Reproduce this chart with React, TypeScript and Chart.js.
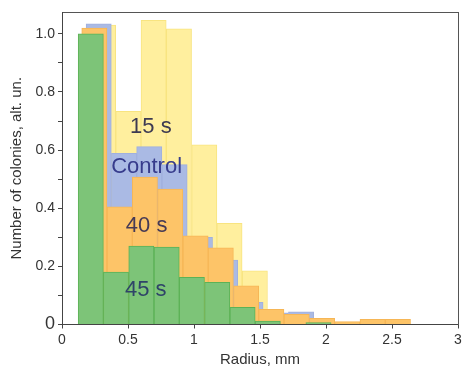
import React, { useEffect, useRef } from "react";
import { Chart, registerables } from "chart.js";

Chart.register(...registerables);

// Bin centres (radius, mm) for each series
const radius45 = [0.218, 0.409, 0.601, 0.793, 0.984, 1.176, 1.368, 1.559, 1.751, 1.943];
const radius40 = [0.245, 0.437, 0.628, 0.820, 1.012, 1.203, 1.395, 1.586, 1.778, 1.970, 2.161, 2.353, 2.545];
const radiusControl = [0.278, 0.470, 0.661, 0.853, 1.045, 1.236, 1.428, 1.619, 1.811];
const radius15 = [0.311, 0.503, 0.694, 0.886, 1.078, 1.269, 1.461];

// Normalised number of colonies
const values45 = [1.0, 0.18, 0.27, 0.266, 0.162, 0.145, 0.059, 0.012, 0, 0.007];
const values40 = [1.02, 0.405, 0.507, 0.466, 0.305, 0.264, 0.133, 0.052, 0.035, 0.021, 0.01, 0.018, 0.018];
const valuesControl = [1.034, 0.589, 0.612, 0.55, 0.3, 0.222, 0.076, 0.04, 0.044];
const values15 = [1.03, 0.733, 1.046, 1.017, 0.618, 0.348, 0.185];

// In-plot labels
const labelTexts = ["15 s", "Control", "40 s", "45 s"];
const labelX = [0.673, 0.641, 0.641, 0.635];
const labelY = [0.681, 0.543, 0.34, 0.119];
const labelColors = ["#3d3a52", "#373c8c", "#463a55", "#2f4468"];

const xTicks = [0, 0.5, 1, 1.5, 2, 2.5, 3];
const xTickLabels = ["0", "0.5", "1", "1.5", "2", "2.5", "3"];

const FONT = "'Liberation Sans', Arial, sans-serif";

const toPoints = (xs: number[], ys: number[]) => xs.map((x, i) => ({ x, y: ys[i] }));

export default function App() {
  const canvasRef = useRef<HTMLCanvasElement | null>(null);

  useEffect(() => {
    document.body.style.margin = "0";
    const canvas = canvasRef.current;
    if (!canvas) return;

    const hiddenX = () => ({
      type: "linear" as const,
      min: 0,
      max: 3,
      display: false,
      offset: false,
      ticks: { stepSize: 0.5 },
      grid: { offset: false },
    });

    const labelPlugin = {
      id: "seriesLabels",
      afterDatasetsDraw(chart: any) {
        const { ctx, scales } = chart;
        ctx.save();
        ctx.font = `22px ${FONT}`;
        ctx.textAlign = "center";
        ctx.textBaseline = "middle";
        labelTexts.forEach((t, i) => {
          ctx.fillStyle = labelColors[i];
          ctx.fillText(t, scales.x.getPixelForValue(labelX[i]), scales.y.getPixelForValue(labelY[i]));
        });
        ctx.restore();
      },
    };

    const chart = new Chart(canvas, {
      type: "bar",
      data: {
        datasets: [
          {
            label: "45 s",
            data: toPoints(radius45, values45),
            xAxisID: "x",
            backgroundColor: "rgb(125, 196, 120)",
            borderColor: "rgb(92, 178, 86)",
            borderWidth: 1,
          },
          {
            label: "40 s",
            data: toPoints(radius40, values40),
            xAxisID: "x1",
            backgroundColor: "rgb(253, 196, 104)",
            borderColor: "rgb(246, 182, 86)",
            borderWidth: 1,
          },
          {
            label: "Control",
            data: toPoints(radiusControl, valuesControl),
            xAxisID: "x2",
            backgroundColor: "rgb(170, 186, 228)",
            borderColor: "rgb(160, 176, 222)",
            borderWidth: 1,
          },
          {
            label: "15 s",
            data: toPoints(radius15, values15),
            xAxisID: "x3",
            backgroundColor: "rgb(255, 239, 158)",
            borderColor: "rgb(248, 228, 128)",
            borderWidth: 1,
          },
        ] as any,
      },
      options: {
        animation: false,
        responsive: false,
        maintainAspectRatio: false,
        grouped: false,
        barPercentage: 1,
        categoryPercentage: 1,
        layout: { padding: { top: 12, right: 4, left: 0, bottom: 0 } },
        plugins: { legend: { display: false }, tooltip: { enabled: false } },
        scales: {
          x: {
            type: "linear",
            position: "bottom",
            min: 0,
            max: 3,
            offset: false,
            afterBuildTicks: (s: any) => {
              s.ticks = xTicks.map((v) => ({ value: v }));
            },
            ticks: {
              stepSize: 0.5,
              color: "#333",
              font: { size: 14, family: FONT },
              padding: 3,
              maxRotation: 0,
              callback: (_v: any, i: number) => xTickLabels[i],
            },
            grid: { offset: false, drawOnChartArea: false, drawTicks: true, tickLength: 4, color: "#444" },
            border: { display: true, color: "#444", width: 1 },
            title: { display: true, text: "Radius, mm", color: "#333", font: { size: 15, family: FONT }, padding: { top: 0, bottom: 0 } },
            afterFit: (s: any) => {
              s.height = 44.5;
              s.paddingLeft = 0;
              s.paddingRight = 0;
            },
          },
          x1: hiddenX(),
          x2: hiddenX(),
          x3: hiddenX(),
          xTop: {
            type: "linear",
            position: "top",
            min: 0,
            max: 3,
            ticks: { display: false },
            grid: { display: false, drawTicks: false },
            border: { display: true, color: "#555", width: 1 },
            afterFit: (s: any) => {
              s.height = 0;
              s.paddingLeft = 0;
              s.paddingRight = 0;
            },
          },
          y: {
            type: "linear",
            position: "left",
            min: 0,
            max: 1.075,
            ticks: {
              stepSize: 0.1,
              includeBounds: false,
              autoSkip: false,
              color: "#333",
              font: (c: any) => ({ size: c.tick && c.tick.value === 0 ? 18 : 14, family: FONT }),
              padding: 3,
              callback: (v: any) => {
                const n = Math.round(Number(v) * 10);
                if (n % 2 !== 0) return "";
                return n === 0 ? "0" : (n / 10).toFixed(1);
              },
            },
            grid: { drawOnChartArea: false, drawTicks: true, tickLength: 4, color: "#444" },
            border: { display: true, color: "#444", width: 1 },
            title: {
              display: true,
              text: "Number of colonies, alt. un.",
              color: "#333",
              font: { size: 15, family: FONT },
              padding: { top: 8, bottom: 0 },
            },
            afterFit: (s: any) => {
              s.width = 62;
              s.paddingTop = 0;
              s.paddingBottom = 0;
            },
          },
          yRight: {
            type: "linear",
            position: "right",
            min: 0,
            max: 1.075,
            ticks: { display: false },
            grid: { display: false, drawTicks: false },
            border: { display: true, color: "#555", width: 1 },
            afterFit: (s: any) => {
              s.width = 0;
            },
          },
        },
      } as any,
      plugins: [labelPlugin],
    });

    return () => chart.destroy();
  }, []);

  return (
    <div style={{ width: 462, height: 369, background: "#fff" }}>
      <canvas ref={canvasRef} width={462} height={369} style={{ display: "block" }} />
    </div>
  );
}
